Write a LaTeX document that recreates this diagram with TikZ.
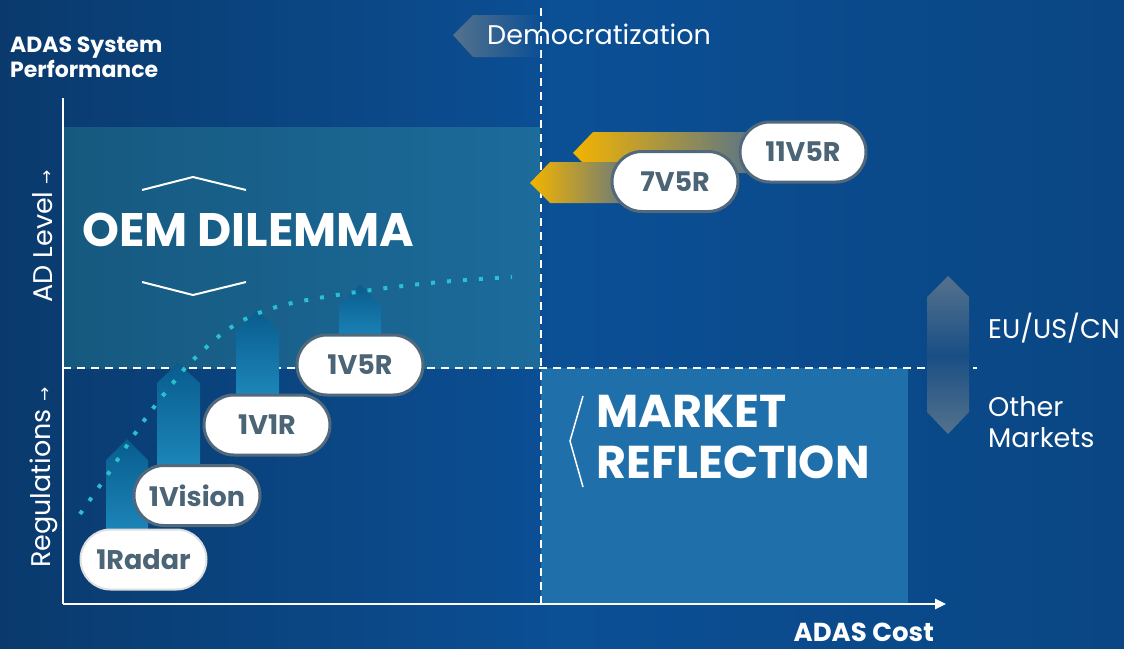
\documentclass[tikz,border=0pt]{standalone}
\usepackage{fontspec}
\setmainfont{Poppins}
\newfontfamily\arrowfont{DejaVu Sans}
\usetikzlibrary{arrows.meta}
\definecolor{bgleft}{HTML}{0A3A6D}
\definecolor{bgmid}{HTML}{0B4F95}
\definecolor{bgright}{HTML}{0A4683}
\definecolor{oemleft}{HTML}{16597F}
\definecolor{oemright}{HTML}{1C6B9B}
\definecolor{marketbox}{HTML}{1F6FAA}
\definecolor{pillline}{HTML}{52697B}
\definecolor{pilltext}{HTML}{4B6476}
\definecolor{bartop}{HTML}{095C8E}
\definecolor{barbot}{HTML}{1E89BC}
\definecolor{gold}{HTML}{F4B400}
\definecolor{fadegray}{HTML}{55728C}
\definecolor{dots}{HTML}{2BBFD2}
\tikzset{
  pill/.style={draw=pillline, line width=3pt, fill=white, rounded corners=30pt,
    minimum width=126pt, minimum height=60pt, inner sep=0pt, text=pilltext,
    font=\fontsize{27}{27}\selectfont\bfseries},
  bar/.style={top color=bartop, bottom color=barbot},
  goldarrow/.style={left color=gold, right color=fadegray},
  divider/.style={white, line width=2pt, dash pattern=on 8pt off 6pt},
  label/.style={white, inner sep=0pt},
}
\newcommand{\uparr}{{\arrowfont\fontsize{17}{17}\selectfont →}}
\begin{document}
\begin{tikzpicture}[x=1pt, y=-1pt]
  \useasboundingbox (0,0) rectangle (1124,648);
  \shade[left color=bgleft, right color=bgright, middle color=bgmid] (0,0) rectangle (1124,648);

  % quadrants
  \shade[left color=oemleft, right color=oemright] (63,127) rectangle (540,368);
  \fill[marketbox] (541,368) rectangle (908,604);

  \coordinate (orig) at (63,604);
  \coordinate (ytop) at (63,98);
  \coordinate (xend) at (946,604);
  \coordinate (vtop) at (541,8);
  \coordinate (vbot) at (541,604);
  \coordinate (hleft) at (63,368);
  \coordinate (hright) at (977,368);
  \draw[divider] (vtop) -- (vbot);
  \draw[divider] (hleft) -- (hright);
  \draw[white, line width=2.5pt] (ytop) -- (orig);
  \draw[white, line width=2.5pt, -{Triangle[length=11pt, width=10pt]}] (orig) -- (xend);

  % arrows
  \shade[left color=fadegray, right color=bgmid]
    (453,35) -- (473,15) -- (540,15) -- (540,57) -- (473,57) -- cycle;
  \shade[top color=fadegray, bottom color=fadegray, middle color=bgright!80!fadegray]
    (948,276) -- (969,297) -- (969,412) -- (948,434) -- (927,412) -- (927,297) -- cycle;
  \shade[goldarrow] (573,153) -- (593,132) -- (760,132) -- (760,173) -- (593,173) -- cycle;
  \shade[goldarrow] (530,183) -- (550,162) -- (640,162) -- (640,203) -- (550,203) -- cycle;
  \shade[bar] (127,439) -- (148,460) -- (148,540) -- (106,540) -- (106,460) -- cycle;
  \shade[bar] (178,363) -- (200,383) -- (200,475) -- (157,475) -- (157,383) -- cycle;
  \shade[bar] (257,311) -- (279,330) -- (279,400) -- (236,400) -- (236,330) -- cycle;
  \shade[bar] (360,285) -- (381,305) -- (381,345) -- (339,345) -- (339,305) -- cycle;

  % trend
  \draw[dots, line width=4pt, dash pattern=on 4pt off 12pt]
    plot[smooth, tension=0.6] coordinates {(80,514) (108,474) (143,422) (173,383)
      (193,360) (230,328) (273,308) (337,295) (430,283) (512,277)};

  % stages
  \node[pill, draw=gray!25, line width=2pt] (radar) at (143.5,559.5) {1Radar};
  \node[pill] (vision) at (197,495.5) {1Vision};
  \node[pill] (v1r) at (267,425) {1V1R};
  \node[pill] (v5r) at (360,365) {1V5R};
  \node[pill] (vvv) at (675,181.5) {7V5R};
  \node[pill] (vvvv) at (803,152) {11V5R};

  % texts
  \node[label, anchor=base west, align=left, font=\fontsize{22}{25}\selectfont\bfseries]
    (perf) at (10,77) {ADAS System\\Performance};
  \node[label, anchor=base east, font=\fontsize{26}{26}\selectfont\bfseries]
    (cost) at (934,641) {ADAS Cost};
  \node[label, anchor=base west, font=\fontsize{27}{27}\selectfont]
    (demo) at (487,44) {Democratization};
  \node[label, anchor=base west, rotate=90, font=\fontsize{27}{27}\selectfont]
    (adlevel) at (52,303) {AD Level \uparr};
  \node[label, anchor=base west, rotate=90, font=\fontsize{27}{27}\selectfont]
    (regs) at (50,568) {Regulations \uparr};
  \node[label, anchor=base west, font=\fontsize{47}{47}\selectfont\bfseries]
    (oem) at (82,246) {OEM DILEMMA};
  \node[label, anchor=base west, align=left, font=\fontsize{46}{51}\selectfont\bfseries]
    (market) at (596,478) {MARKET\\REFLECTION};
  \node[label, anchor=base west, font=\fontsize{27}{27}\selectfont]
    (eu) at (988,338) {EU/US/CN};
  \node[label, anchor=base west, align=left, font=\fontsize{27}{31}\selectfont]
    (other) at (988,447) {Other\\Markets};

  % brackets
  \draw[white, line width=2pt] (142,190) -- (193,177) -- (246,190);
  \draw[white, line width=2pt] (142,282) -- (193,295) -- (246,282);
  \draw[white, line width=1.5pt] (583,396) -- (570,441) -- (583,487);
\end{tikzpicture}
\end{document}
